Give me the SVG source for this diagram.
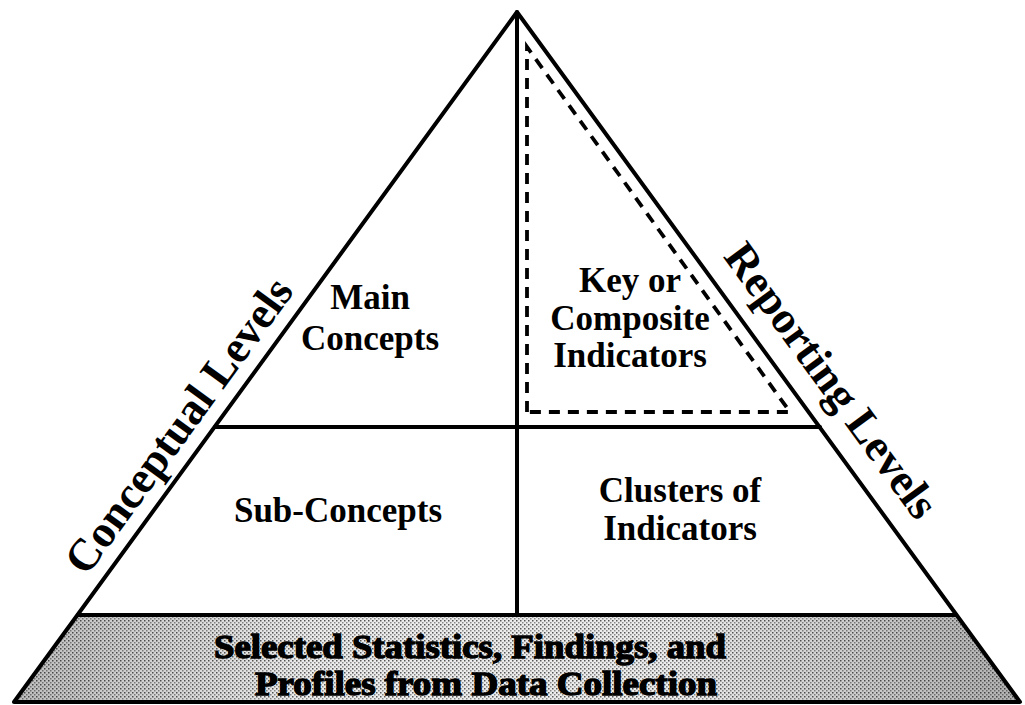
<svg xmlns="http://www.w3.org/2000/svg" width="1025" height="705" viewBox="0 0 1025 705">
<style>
.ln{stroke:#000;stroke-width:4;fill:none;stroke-linecap:round;stroke-linejoin:round}
.ds{stroke:#000;stroke-width:3.8;fill:none;stroke-dasharray:11 8}
.t{font-family:"Liberation Serif","Times New Roman",serif;font-weight:bold;font-size:35px;fill:#000;text-anchor:middle}
.side{font-family:"Liberation Serif","Times New Roman",serif;font-weight:bold;font-size:45px;fill:#000;text-anchor:middle}
.band{font-family:"Liberation Serif","Times New Roman",serif;font-weight:bold;font-size:34px;fill:#000;stroke:#000;stroke-width:1.4;text-anchor:middle}
</style>
<defs>
<pattern id="dots" width="4" height="4" patternUnits="userSpaceOnUse">
<rect width="4" height="4" fill="#ececec"/>
<rect x="0" y="0" width="1.5" height="1.5" fill="#555"/>
<rect x="2" y="2" width="1.5" height="1.5" fill="#888"/>
</pattern>
<linearGradient id="shade" x1="0" x2="1" y1="0" y2="0">
<stop offset="0" stop-color="#000" stop-opacity="0.2"/>
<stop offset="0.3" stop-color="#000" stop-opacity="0"/>
<stop offset="0.65" stop-color="#000" stop-opacity="0"/>
<stop offset="1" stop-color="#000" stop-opacity="0.25"/>
</linearGradient>
</defs>
<rect width="1025" height="705" fill="#fff"/>
<g id="base-band">
<polygon points="78,615 956,615 1020,702 14,702" fill="url(#dots)"/>
<polygon points="78,615 956,615 1020,702 14,702" fill="url(#shade)"/>
<text class="band" x="470" y="658" textLength="512" lengthAdjust="spacingAndGlyphs">Selected Statistics, Findings, and</text>
<text class="band" x="486" y="695" textLength="462" lengthAdjust="spacingAndGlyphs">Profiles from Data Collection</text>
</g>
<g id="connectors">
<polyline class="ln" points="14,702 517,12 1020,702 14,702"/>
<line class="ln" x1="78" y1="615" x2="956" y2="615"/>
<line class="ln" x1="215" y1="427" x2="820" y2="427"/>
<line class="ln" x1="517" y1="12" x2="517" y2="615"/>
</g>
<g id="key-indicators">
<polyline class="ds" points="527,412 527,47 790,412 527,412"/>
<text class="t" x="630" y="292">Key or</text>
<text class="t" x="630" y="330">Composite</text>
<text class="t" x="630" y="367">Indicators</text>
</g>
<g id="main-concepts">
<text class="t" x="370" y="309">Main</text>
<text class="t" x="370" y="350">Concepts</text>
</g>
<g id="sub-concepts">
<text class="t" x="338" y="522">Sub-Concepts</text>
</g>
<g id="clusters">
<text class="t" x="680" y="502">Clusters of</text>
<text class="t" x="680" y="540">Indicators</text>
</g>
<g id="conceptual-levels">
<text class="side" transform="translate(190.7,434.3) rotate(-53.9)">Conceptual Levels</text>
</g>
<g id="reporting-levels">
<text class="side" transform="translate(819.4,389.2) rotate(53.9)">Reporting Levels</text>
</g>
</svg>
